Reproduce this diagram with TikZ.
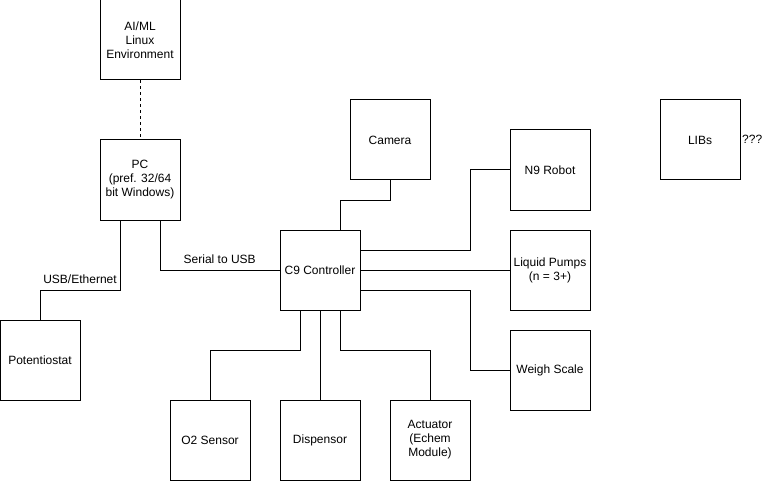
\documentclass[tikz,border=0pt]{standalone}
\usepackage{fontspec}
\setmainfont{Liberation Sans}
\begin{document}
\begin{tikzpicture}[x=1pt,y=-1pt,
  blk/.style={draw=black,line width=1pt,minimum width=80pt,minimum height=80pt,inner sep=0pt,align=center,font=\fontsize{12}{14}\selectfont},
  wire/.style={draw=black,line width=1pt},
  lbl/.style={font=\fontsize{12}{14}\selectfont,inner sep=0pt}]
\fill[white] (0,0) rectangle (781,481);
\useasboundingbox (0,0) rectangle (781,481);
\node[blk] (ai) at (140,40) {AI/ML\\Linux\\Environment};
\node[blk] (pc) at (140,180) {PC\\(pref. 32/64\\bit Windows)};
\node[blk] (pot) at (40,360) {Potentiostat};
\node[blk] (c9) at (320,270) {C9 Controller};
\node[blk] (cam) at (390,140) {Camera};
\node[blk] (n9) at (550,170) {N9 Robot};
\node[blk] (lp) at (550,270) {Liquid Pumps\\(n = 3+)};
\node[blk] (ws) at (550,370) {Weigh Scale};
\node[blk] (libs) at (700,140) {LIBs};
\node[lbl,anchor=west] (q) at (742,139) {???};
\node[blk] (o2) at (210,440) {O2 Sensor};
\node[blk] (disp) at (320,440) {Dispensor};
\node[blk] (act) at (430,440) {Actuator\\(Echem\\Module)};

\draw[wire,dash pattern=on 3pt off 3pt] (ai.south) -- (pc.north);
\draw[wire] ([xshift=-20pt]pc.south) -- ++(0,70) -| node[lbl,pos=0.25,above=6pt] {USB/Ethernet} (pot.north);
\draw[wire] ([xshift=20pt]pc.south) |- node[lbl,pos=0.75,above=6pt] {Serial to USB} (c9.west);
\draw[wire] (cam.south) -- ++(0,20) -| ([xshift=20pt]c9.north);
\draw[wire] ([yshift=20pt]c9.east) -- ++(110,0) |- (n9.west);
\draw[wire] (c9.east) -- (lp.west);
\draw[wire] ([yshift=-20pt]c9.east) -- ++(110,0) |- (ws.west);
\draw[wire] ([xshift=-20pt]c9.south) -- ++(0,40) -| (o2.north);
\draw[wire] (c9.south) -- (disp.north);
\draw[wire] ([xshift=20pt]c9.south) -- ++(0,40) -| (act.north);
\end{tikzpicture}
\end{document}
